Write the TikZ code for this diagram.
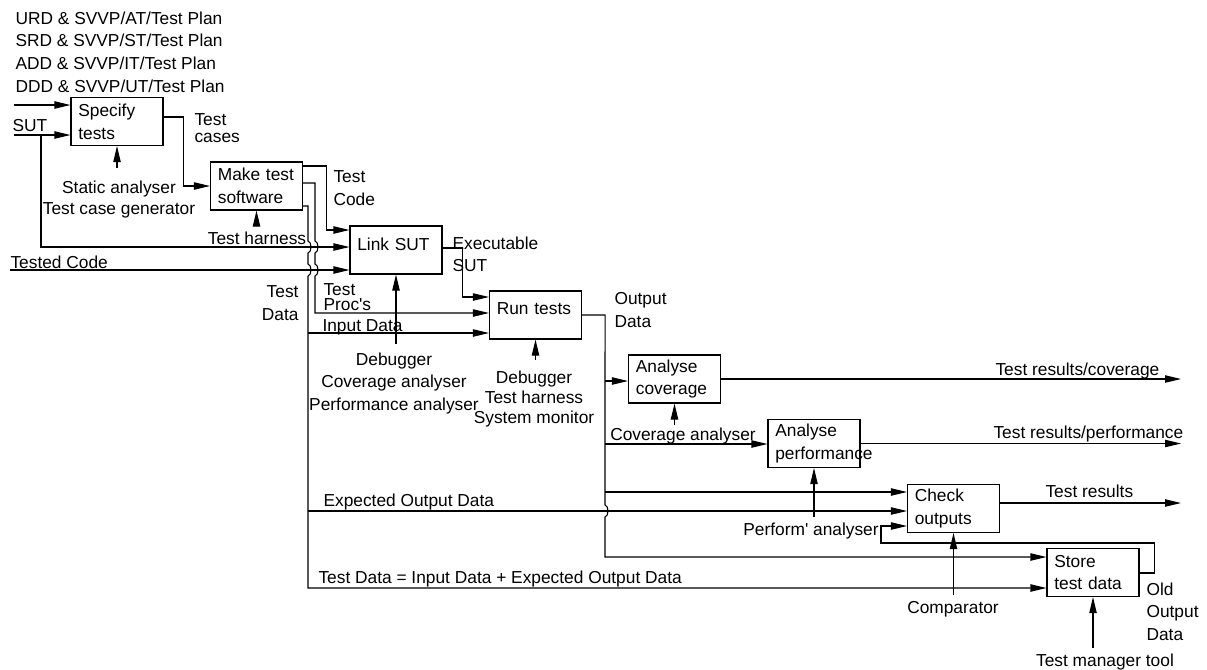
\documentclass[tikz,border=0pt]{standalone}
\usepackage{fontspec}
\setmainfont{Liberation Sans}
\usetikzlibrary{arrows.meta}

\begin{document}
\begin{tikzpicture}[
  x=0.75pt, y=-0.75pt,
  font=\fontsize{13pt}{17pt}\selectfont,
  line width=0.8pt,
  task/.style={draw, minimum width=69pt, minimum height=36pt, text width=58pt, inner xsep=5.5pt, align=left},
  arr/.style={-{Triangle[length=12pt, width=5.5pt]}},
  lbl/.style={inner sep=0pt},
  tool/.style={inner xsep=0pt, anchor=north, align=center}
]
\useasboundingbox (0,0) rectangle (1207,669);

% activities
\node[task] (spec) at (117,121.5) {Specify\\tests};
\node[task] (mts) at (256.5,186) {Make test\\software};
\node[task, text depth=9pt] (link) at (396,250) {Link SUT};
\node[task, text depth=9pt] (run) at (535.5,315) {Run tests};
\node[task] (cov) at (674.5,379) {Analyse\\coverage};
\node[task] (perf) at (814,443.5) {Analyse\\performance};
\node[task] (check) at (953.5,508.5) {Check\\outputs};
\node[task] (store) at (1093,572.5) {Store\\test data};

% data labels
\node[lbl, anchor=north west, align=left] (plans) at (15,11) {URD \& SVVP/AT/Test Plan\\SRD \& SVVP/ST/Test Plan\\ADD \& SVVP/IT/Test Plan\\DDD \& SVVP/UT/Test Plan};
\node[lbl, anchor=base west] (sut) at (12,131) {SUT};
\node[lbl, anchor=base west] (tested) at (10,268) {Tested Code};
\node[lbl, anchor=north west, align=left] (cases) at (194,113) {Test\\[-4pt]cases};
\node[lbl, anchor=north west, align=left] (tcode) at (333,170) {Test\\Code};
\node[lbl, anchor=north west, align=left] (exe) at (452,236) {Executable\\SUT};
\node[lbl, anchor=north east, align=right] (tdata) at (299,285) {Test\\Data};
\node[lbl, anchor=north west, align=left] (procs) at (323,283) {Test\\[-6pt]Proc\textquotesingle s};
\node[lbl, anchor=base west] (indata) at (322,331) {Input Data};
\node[lbl, anchor=north west, align=left] (outdata) at (614,292) {Output\\Data};
\node[lbl, anchor=base west] (expdata) at (323,506) {Expected Output Data};
\node[lbl, anchor=base west] (alldata) at (318,583) {Test Data = Input Data + Expected Output Data};
\node[lbl, anchor=base west] (rescov) at (995,375) {Test results/coverage};
\node[lbl, anchor=base west] (resperf) at (993,438) {Test results/performance};
\node[lbl, anchor=base west] (res) at (1045,497) {Test results};
\node[lbl, anchor=north west, align=left] (olddata) at (1146,582) {Old\\Output\\Data};

% tool labels
\node[tool, inner ysep=9pt] (sta) at (119,168) {Static analyser\\[-1pt]Test case generator};
\node[tool, inner ysep=4.5pt] (harn) at (257,225) {Test harness};
\node[tool, inner ysep=6pt] (dbga) at (394,344) {Debugger\\Coverage analyser\\Performance analyser};
\node[tool, inner ysep=7.5pt] (dbgb) at (534,360) {Debugger\\[-2pt]Test harness\\[-2pt]System monitor};
\node[tool, inner ysep=1.5pt] (cova) at (683,425) {Coverage analyser};
\node[tool, inner ysep=3.75pt] (pfa) at (811,517) {Perform\textquotesingle{} analyser};
\node[tool, inner ysep=4.5pt] (comp) at (953,595) {Comparator};
\node[tool, inner ysep=3.75pt] (tmt) at (1105,648) {Test manager tool};

% free ends
\coordinate (planin) at (14,105);
\coordinate (sutin) at (14,135);
\coordinate (sutbr) at (41,135);
\coordinate (codein) at (10,270);
\coordinate (rim) at (1181,0);

% inputs on the left
\draw[arr] (planin) -- (planin -| spec.west);
\draw[arr] (sutin) -- (sutin -| spec.west);
\draw[arr] (sutbr) |- (link.west |- 0,247);
\draw[arr] (codein) -- (codein -| link.west);

% products
\draw[arr] (spec.east |- 0,117) -- ++(20,0) |- (mts.west);
\draw[arr] (mts.east |- 0,166) -- ++(23,0) |- (link.west |- 0,230);
\draw[arr] (mts.east |- 0,183) -| (315,241) .. controls (319,242) and (319,252) .. (315,253)
  -- (315,264) .. controls (319,265) and (319,275) .. (315,276) |- (run.west |- 0,313);
\draw[arr] (mts.east |- 0,206) -| (308,241) .. controls (312,242) and (312,252) .. (308,253)
  -- (308,264) .. controls (312,265) and (312,275) .. (308,276) |- (store.west |- 0,588);
\draw[arr] (308,333) -- (run.west |- 0,333);
\draw[arr] (308,511) -- (check.west |- 0,511);
\draw[arr] (link.east |- 0,248) -- ++(20,0) |- (run.west |- 0,297);
\draw[arr] (run.east) -- ++(23,0) -- (605,505) .. controls (609,506) and (609,516) .. (605,517)
  |- (store.west |- 0,557);
\draw[arr] (605,381) -- (cov.west |- 0,381);
\draw[arr] (605,444) -- (perf.west |- 0,444);
\draw[arr] (605,492) -- (check.west |- 0,492);
\draw[arr] (cov.east) -- (cov.east -| rim);
\draw[arr] (perf.east) -- (perf.east -| rim);
\draw[arr] (check.east |- 0,503) -- (rim |- 0,503);
\draw[arr] (store.east |- 0,573) -- ++(15,0) |- (881,543) |- (check.west |- 0,526);

% tools
\draw[arr] (spec.south |- sta.north) -- (spec.south);
\draw[arr] (mts.south |- harn.north) -- (mts.south);
\draw[arr] (link.south |- dbga.north) -- (link.south);
\draw[arr] (run.south |- dbgb.north) -- (run.south);
\draw[arr] (cov.south |- cova.north) -- (cov.south);
\draw[arr] (perf.south |- pfa.north) -- (perf.south);
\draw[arr] (check.south |- comp.north) -- (check.south);
\draw[arr] (store.south |- tmt.north) -- (store.south);
\end{tikzpicture}
\end{document}
